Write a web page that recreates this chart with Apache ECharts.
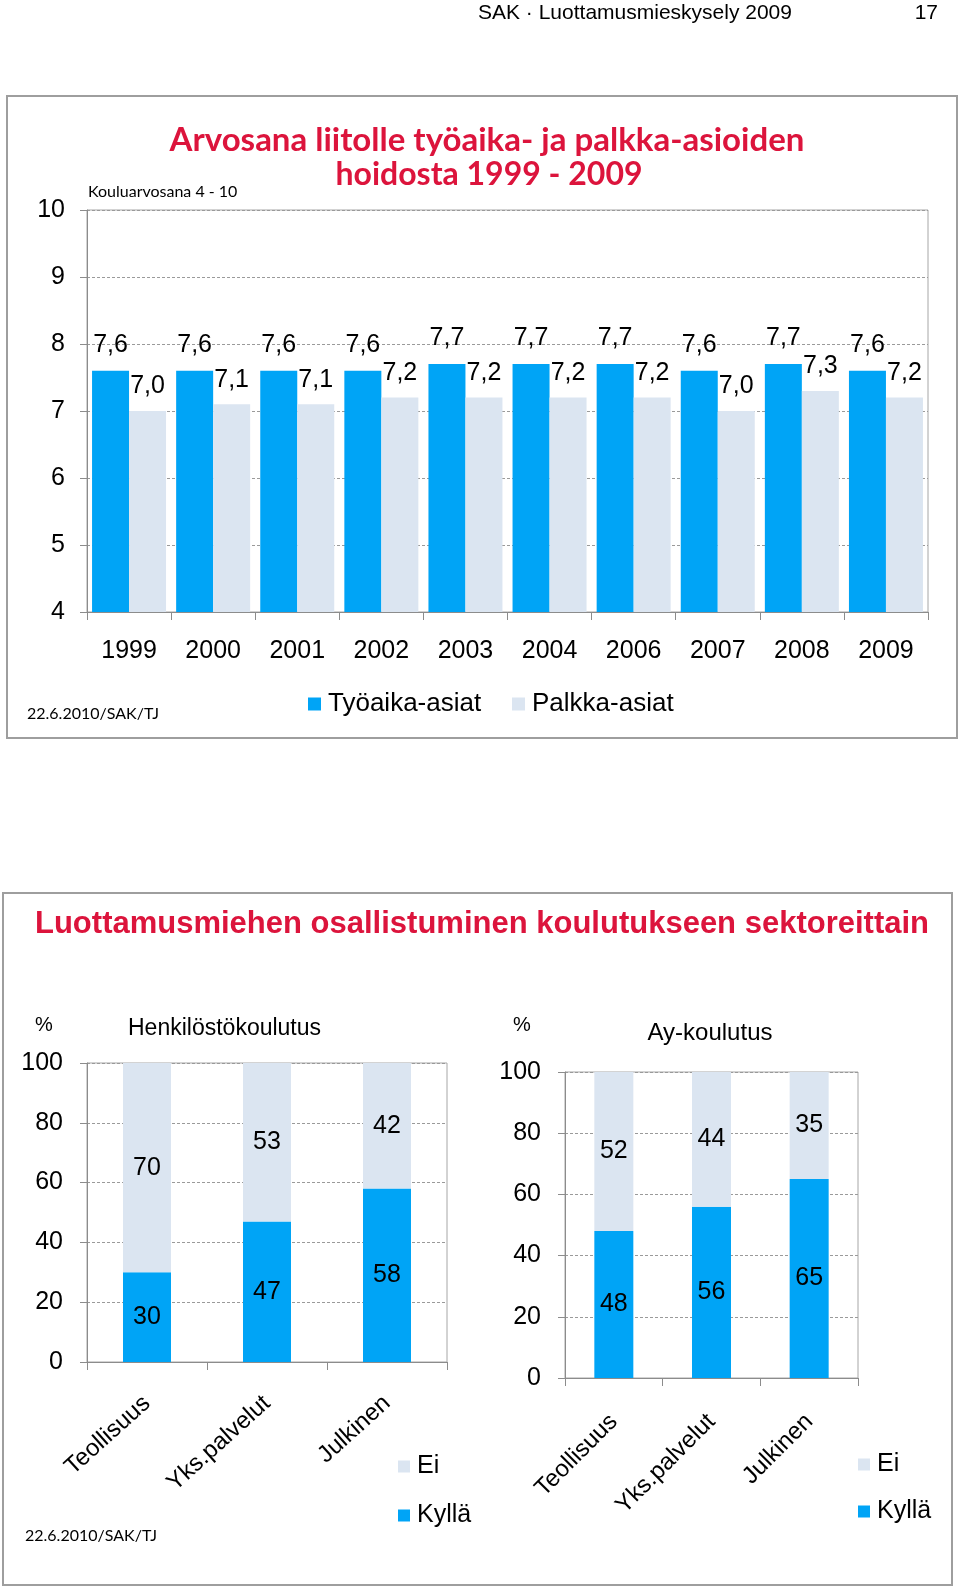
<!DOCTYPE html>
<html>
<head>
<meta charset="utf-8">
<script src="https://cdn.jsdelivr.net/npm/echarts@6/dist/echarts.min.js"></script>
<style>
html,body{margin:0;padding:0;background:#fff;}
#c{width:960px;height:1588px;}
</style>
</head>
<body>
<div id="c"></div>
<script>
// ---- data ----
const years = ['1999','2000','2001','2002','2003','2004','2006','2007','2008','2009'];
const tyoaika = [7.6,7.6,7.6,7.6,7.7,7.7,7.7,7.6,7.7,7.6];
const palkka = [7.0,7.1,7.1,7.2,7.2,7.2,7.2,7.0,7.3,7.2];
const sectors = ['Teollisuus','Yks.palvelut','Julkinen'];
const henkKylla = [30,47,58];
const henkEi = [70,53,42];
const ayKylla = [48,56,65];
const ayEi = [52,44,35];

const BLUE = '#00a4f6';
const LIGHT = '#dbe5f1';
const RED = '#dc143c';
const SANS = '"Liberation Sans", Arial, sans-serif';
const CAL = 'Lato, "Open Sans", sans-serif';
const AXC = '#8c8c8c';

const chart = echarts.init(document.getElementById('c'), null, {renderer:'canvas'});

function valAxis(gi, min, max, step, margin){
  return {
    type:'value', gridIndex:gi, min:min, max:max, interval:step,
    axisLine:{show:true, lineStyle:{color:AXC, width:1}},
    axisTick:{show:true, length:7, lineStyle:{color:AXC}},
    axisLabel:{fontFamily:SANS, fontSize:25, color:'#000', margin:margin},
    splitLine:{show:true, lineStyle:{color:'#9a9a9a', type:[3,2], width:1}}
  };
}
function catAxis(gi, data, lbl){
  return {
    type:'category', gridIndex:gi, data:data,
    axisLine:{show:true, lineStyle:{color:AXC, width:1}},
    axisTick:{show:true, length:8, alignWithLabel:false, interval:0, lineStyle:{color:AXC}},
    axisLabel:Object.assign({fontFamily:SANS, color:'#000', interval:0}, lbl)
  };
}
const fmt1 = p => p.value.toFixed(1).replace('.', ',');

const legendText = (size) => ({fontFamily:SANS, fontSize:size, color:'#000', padding:[0,0,0,2]});

const option = {
  animation:false,
  backgroundColor:'#fff',
  grid:[
    {left:87, top:210, width:841, height:402, show:true, borderColor:'#a6a6a6', borderWidth:1},
    {left:87, top:1063, width:360, height:299, show:true, borderColor:'#a6a6a6', borderWidth:1},
    {left:565, top:1072, width:293, height:306, show:true, borderColor:'#a6a6a6', borderWidth:1}
  ],
  xAxis:[
    catAxis(0, years, {fontSize:25, margin:27}),
    catAxis(1, sectors, {fontSize:24, rotate:42, margin:38}),
    catAxis(2, sectors, {fontSize:24, rotate:45, margin:40})
  ],
  yAxis:[
    valAxis(0, 4, 10, 1, 22),
    valAxis(1, 0, 100, 20, 24),
    valAxis(2, 0, 100, 20, 24)
  ],
  legend:[
    {left:303, top:686, itemWidth:13, itemHeight:13, icon:'rect', data:['Työaika-asiat'], textStyle:legendText(26)},
    {left:507, top:686, itemWidth:13, itemHeight:13, icon:'rect', data:['Palkka-asiat'], textStyle:legendText(26)},
    {left:393, top:1449, orient:'vertical', itemGap:24, itemWidth:12, itemHeight:12, icon:'rect', data:['Ei','Kyllä'], textStyle:legendText(25)},
    {left:853, top:1447, orient:'vertical', itemGap:22, itemWidth:12, itemHeight:12, icon:'rect', data:['Ei','Kyllä'], textStyle:legendText(25)}
  ],
  series:[
    {name:'Työaika-asiat', type:'bar', xAxisIndex:0, yAxisIndex:0, data:tyoaika, barWidth:37, barGap:'0%',
      itemStyle:{color:BLUE},
      label:{show:true, position:'top', distance:13, formatter:fmt1, fontFamily:SANS, fontSize:25, color:'#000'}},
    {name:'Palkka-asiat', type:'bar', xAxisIndex:0, yAxisIndex:0, data:palkka, barWidth:37, barGap:'0%',
      itemStyle:{color:LIGHT},
      label:{show:true, position:'top', distance:12, formatter:fmt1, fontFamily:SANS, fontSize:25, color:'#000'}},
    {name:'Kyllä', type:'bar', xAxisIndex:1, yAxisIndex:1, stack:'h', data:henkKylla, barWidth:48,
      itemStyle:{color:BLUE},
      label:{show:true, position:'inside', fontFamily:SANS, fontSize:25, color:'#000'}},
    {name:'Ei', type:'bar', xAxisIndex:1, yAxisIndex:1, stack:'h', data:henkEi, barWidth:48,
      itemStyle:{color:LIGHT},
      label:{show:true, position:'inside', fontFamily:SANS, fontSize:25, color:'#000'}},
    {name:'Kyllä', type:'bar', xAxisIndex:2, yAxisIndex:2, stack:'a', data:ayKylla, barWidth:39,
      itemStyle:{color:BLUE},
      label:{show:true, position:'inside', fontFamily:SANS, fontSize:25, color:'#000'}},
    {name:'Ei', type:'bar', xAxisIndex:2, yAxisIndex:2, stack:'a', data:ayEi, barWidth:39,
      itemStyle:{color:LIGHT},
      label:{show:true, position:'inside', fontFamily:SANS, fontSize:25, color:'#000'}}
  ],
  graphic:[
    {type:'rect', shape:{x:7, y:96, width:950, height:642}, style:{fill:'none', stroke:'#9e9e9e', lineWidth:2}, z:-1},
    {type:'rect', shape:{x:3, y:893, width:949, height:692}, style:{fill:'none', stroke:'#9e9e9e', lineWidth:2}, z:-1},
    {type:'text', x:478, y:13, style:{text:'SAK · Luottamusmieskysely 2009', font:'21px '+SANS, fill:'#000', verticalAlign:'middle'}},
    {type:'text', x:938, y:13, style:{text:'17', font:'21px '+SANS, fill:'#000', align:'right', verticalAlign:'middle'}},
    {type:'text', x:487, y:140, style:{text:'Arvosana liitolle työaika- ja palkka-asioiden', font:'bold 33px '+CAL, fill:RED, align:'center', verticalAlign:'middle'}},
    {type:'text', x:489, y:175, style:{text:'hoidosta 1999 - 2009', font:'bold 32px '+CAL, fill:RED, align:'center', verticalAlign:'middle'}},
    {type:'text', x:88, y:192, style:{text:'Kouluarvosana 4 - 10', font:'16px '+CAL, fill:'#000', verticalAlign:'middle'}},
    {type:'text', x:27, y:714, style:{text:'22.6.2010/SAK/TJ', font:'16px '+CAL, fill:'#000', verticalAlign:'middle'}},
    {type:'text', x:35, y:924, style:{text:'Luottamusmiehen osallistuminen koulutukseen sektoreittain', font:'bold 31px '+SANS, fill:RED, verticalAlign:'middle'}},
    {type:'text', x:35, y:1025, style:{text:'%', font:'20px '+SANS, fill:'#000', verticalAlign:'middle'}},
    {type:'text', x:128, y:1029, style:{text:'Henkilöstökoulutus', font:'23px '+SANS, fill:'#000', verticalAlign:'middle'}},
    {type:'text', x:513, y:1025, style:{text:'%', font:'20px '+SANS, fill:'#000', verticalAlign:'middle'}},
    {type:'text', x:710, y:1033, style:{text:'Ay-koulutus', font:'24px '+SANS, fill:'#000', align:'center', verticalAlign:'middle'}},
    {type:'text', x:25, y:1536, style:{text:'22.6.2010/SAK/TJ', font:'16px '+CAL, fill:'#000', verticalAlign:'middle'}}
  ]
};
chart.setOption(option);
</script>
</body>
</html>
